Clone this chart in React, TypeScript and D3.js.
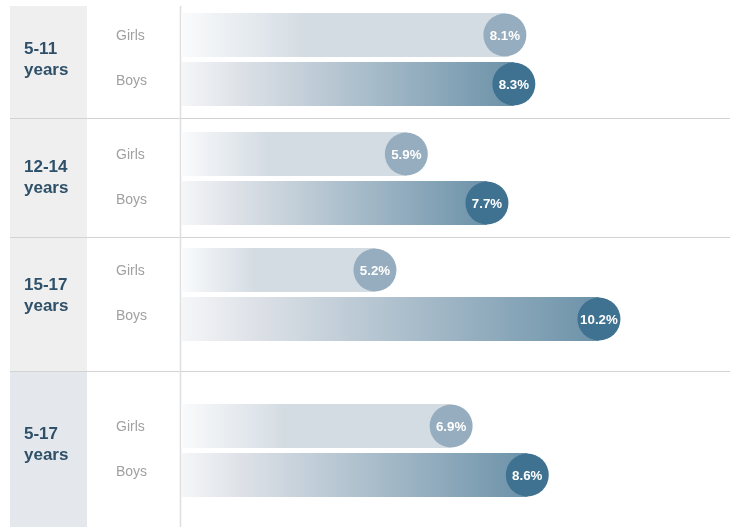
import React from "react";
import * as d3 from "d3";

const groups = ["5-11", "12-14", "15-17", "5-17"];
const groupSuffix = "years";
const sexes = ["Girls", "Boys"];
const girls = [8.1, 5.9, 5.2, 6.9];
const boys = [8.3, 7.7, 10.2, 8.6];

// layout constants (pixels)
const W = 733;
const H = 527;
const panelBounds = [6, 118, 237, 371, 527];
const girlsBarTop = [13, 132, 248, 404];
const labelCenter = [58, 176, 294, 443];
const sexLabelShift = [0, -4];
const barH = 44;
const barStep = 49;
const barLeft = 181;
const radius = 21.5;

const FONT = "'Liberation Sans', Arial, Helvetica, sans-serif";

export default function App() {
  const x = d3.scaleLinear().domain([0, 10]).range([142, 590]);
  const values = [girls, boys];
  const circleFill = ["#95adbe", "#3f7291"];

  return (
    <div style={{ position: "fixed", left: 0, top: 0 }}>
      <svg width={W} height={H} style={{ display: "block", fontFamily: FONT }}>
        <defs>
          <linearGradient id="gGirls" x1="0" x2="1" y1="0" y2="0">
            <stop offset="0" stopColor="#fafbfc" />
            <stop offset="0.38" stopColor="#d4dce3" />
            <stop offset="1" stopColor="#d4dce3" />
          </linearGradient>
          <linearGradient id="gBoys" x1="0" x2="1" y1="0" y2="0">
            <stop offset="0" stopColor="#f5f6f8" />
            <stop offset="0.18" stopColor="#dde1e7" />
            <stop offset="1" stopColor="#6c92a9" />
          </linearGradient>
        </defs>
        {groups.map((g, i) => (
          <rect
            key={"bg" + g}
            x={10}
            y={panelBounds[i]}
            width={77}
            height={panelBounds[i + 1] - panelBounds[i]}
            fill={i === groups.length - 1 ? "#e4e8ed" : "#efefef"}
          />
        ))}
        {panelBounds.slice(1, -1).map((y, i) => (
          <line key={"sep" + i} x1={10} x2={730} y1={y + 0.5} y2={y + 0.5} stroke="#d3d3d3" strokeWidth={1.2} />
        ))}
        <line x1={180.5} x2={180.5} y1={6} y2={H} stroke="#dedede" strokeWidth={1.5} />
        {groups.map((g, i) => (
          <g key={g}>
            <text x={24} y={labelCenter[i] - 4} fontSize={17} fontWeight="bold" fill="#2e5068">
              {g}
            </text>
            <text x={24} y={labelCenter[i] + 17} fontSize={17} fontWeight="bold" fill="#2e5068">
              {groupSuffix}
            </text>
            {sexes.map((s, j) => {
              const v = values[j][i];
              const top = girlsBarTop[i] + j * barStep;
              const cy = top + barH / 2;
              const cx = x(v);
              return (
                <g key={s}>
                  <text x={116} y={cy + 5 + sexLabelShift[j]} fontSize={14} fill="#a0a0a0">
                    {s}
                  </text>
                  <rect
                    x={barLeft}
                    y={top}
                    width={cx - barLeft}
                    height={barH}
                    fill={j === 0 ? "url(#gGirls)" : "url(#gBoys)"}
                  />
                  <circle cx={cx} cy={cy} r={radius} fill={circleFill[j]} />
                  <text
                    x={cx}
                    y={cy + 4.5}
                    textAnchor="middle"
                    fontSize={13.3}
                    fontWeight="bold"
                    fill="#ffffff"
                  >
                    {v.toFixed(1) + "%"}
                  </text>
                </g>
              );
            })}
          </g>
        ))}
      </svg>
    </div>
  );
}
